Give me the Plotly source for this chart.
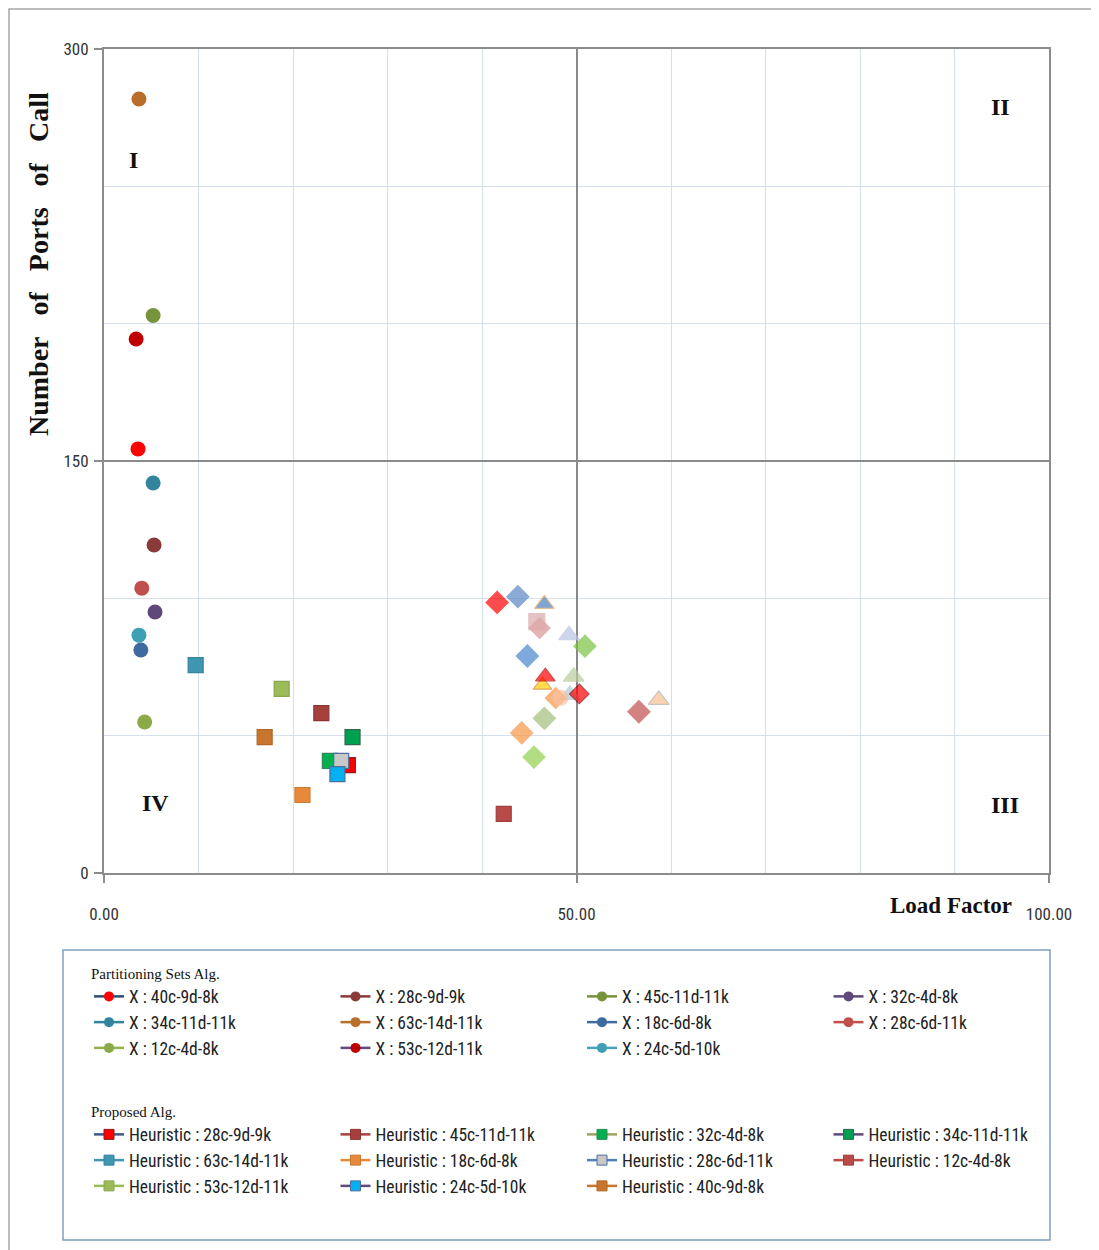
import plotly.graph_objects as go

# page body adds an 8px margin; work in reference pixel coordinates and shift
OFF = 8
W, H = 1099 - OFF, 1250 - OFF
PL, PR, PT, PB = 104, 1049, 49, 873          # plot area in reference pixels
L, T = PL - OFF, PT - OFF
R, B = W - (PR - OFF), H - (PB - OFF)
PW, PH = PR - PL, PB - PT

def px(xp):
    return (xp - PL) / PW

def py(yp):
    return (PB - yp) / PH

# ---------------- data ----------------
x_names = ["40c-9d-8k", "28c-9d-9k", "45c-11d-11k", "32c-4d-8k", "34c-11d-11k",
           "63c-14d-11k", "18c-6d-8k", "28c-6d-11k", "12c-4d-8k", "53c-12d-11k", "24c-5d-10k"]
x_load = [3.6, 5.3, 5.2, 5.4, 5.2, 3.7, 3.9, 4.0, 4.3, 3.4, 3.7]
x_ports = [154.4, 119.4, 203.0, 95.0, 142.0, 281.8, 81.2, 103.7, 55.0, 194.4, 86.6]
x_line_colors = ["#2c4d75", "#8b3a3a", "#77933c", "#5f497a", "#31849b", "#b86f2a",
                 "#3f6aa0", "#c0504d", "#93b150", "#604a7b", "#4aa3b8"]
x_marker_colors = ["#ff0000", "#8b3a3a", "#77933c", "#5f497a", "#31849b", "#b86f2a",
                   "#3f6aa0", "#c0504d", "#8aaa4a", "#c00000", "#3fa0b5"]

h_names = ["28c-9d-9k", "45c-11d-11k", "32c-4d-8k", "34c-11d-11k", "63c-14d-11k",
           "18c-6d-8k", "28c-6d-11k", "12c-4d-8k", "53c-12d-11k", "24c-5d-10k", "40c-9d-8k"]
h_load = [25.8, 23.0, 23.9, 26.3, 9.7, 21.0, 25.1, 42.3, 18.8, 24.7, 17.0]
h_ports = [39.3, 58.2, 40.8, 49.5, 75.7, 28.4, 40.8, 21.5, 67.0, 36.0, 49.5]
h_line_colors = ["#3d5a8a", "#a5403d", "#a0a060", "#604a7b", "#3e96b0", "#e6893a",
                 "#4f81bd", "#b84a47", "#9bbb59", "#604a7b", "#c87530"]
h_marker_colors = ["#ff0000", "#a5403d", "#00b050", "#00a050", "#3e96b0", "#e6893a",
                   "#c8c8c8", "#b84a47", "#9bbb59", "#00b0f0", "#c87530"]
h_marker_edges = ["#8b1a1a", "#8a3532", "#2e8b57", "#2e6b4a", "#3584a0", "#d07a30",
                  "#4f6fa0", "#a04040", "#88a850", "#4f6fa0", "#b06828"]

# other (unlabelled) points in the middle cluster
m_load = [41.6, 43.8, 46.6, 46.1, 45.8, 49.2, 50.9, 44.8, 46.4, 46.7, 49.7,
          49.3, 47.8, 48.3, 50.3, 46.6, 44.2, 56.6, 58.7, 45.5]
m_ports = [98.5, 100.6, 97.9, 89.2, 91.5, 86.6, 82.6, 79.0, 68.4, 71.5, 71.5,
           64.8, 63.7, 63.8, 65.2, 56.3, 51.0, 58.7, 63.0, 42.2]
m_symbols = ["diamond", "diamond", "triangle-up", "diamond", "square", "triangle-up",
             "diamond", "diamond", "triangle-up", "triangle-up", "triangle-up",
             "triangle-up", "diamond", "circle", "diamond", "diamond", "diamond",
             "diamond", "triangle-up", "diamond"]
m_colors = ["#ff0000", "#5b87c5", "#4a7ebb", "#d99694", "#dcaaaa", "#b9c4e2",
            "#7cc242", "#4a86d0", "#ffd000", "#ff0000", "#b8cc9c",
            "#a9cdd8", "#f79646", "#f9c2a4", "#ff0000", "#a3c07a", "#f79646",
            "#c0504d", "#fac090", "#92d050"]
m_edges = ["#ff0000", "#5b87c5", "#e0a060", "#d99694", "#dcaaaa", "#b9c4e2",
           "#7cc242", "#4a86d0", "#e08020", "#c00000", "#b8cc9c",
           "#a9cdd8", "#f79646", "#f9c2a4", "#8b0000", "#a3c07a", "#f79646",
           "#c0504d", "#b0a8a0", "#92d050"]
m_sizes = [17, 17, 17, 16, 16, 18, 17, 17, 16, 17, 18, 18, 16, 15, 15, 17, 17, 17, 18, 17]

x_ticks = [0, 50, 100]
y_ticks = [0, 150, 300]

quad_labels = ["I", "II", "III", "IV"]
quad_x = [3.1, 94.9, 95.3, 5.4]
quad_y = [259.6, 278.9, 24.8, 25.5]

# ---------------- figure ----------------
fig = go.Figure()

for i, n in enumerate(x_names):
    fig.add_trace(go.Scatter(
        x=[x_load[i]], y=[x_ports[i]], mode="markers", showlegend=False,
        marker=dict(symbol="circle", size=15, color=x_marker_colors[i],
                    line=dict(width=0)),
        hovertemplate="X : " + n + "<extra></extra>"))

for i, n in enumerate(h_names):
    fig.add_trace(go.Scatter(
        x=[h_load[i]], y=[h_ports[i]], mode="markers", showlegend=False,
        marker=dict(symbol="square", size=15, color=h_marker_colors[i],
                    line=dict(width=1.2, color=h_marker_edges[i])),
        hovertemplate="Heuristic : " + n + "<extra></extra>"))

fig.add_trace(go.Scatter(
    x=m_load, y=m_ports, mode="markers", showlegend=False,
    marker=dict(symbol=m_symbols, size=m_sizes, color=m_colors,
                line=dict(width=1.2, color=m_edges))))

# legend entries
for i, n in enumerate(x_names):
    fig.add_trace(go.Scatter(
        x=[None], y=[None], mode="lines+markers", name="X : " + n, legend="legend",
        line=dict(color=x_line_colors[i], width=2.5),
        marker=dict(symbol="circle", size=10, color=x_marker_colors[i])))

for i, n in enumerate(h_names):
    fig.add_trace(go.Scatter(
        x=[None], y=[None], mode="lines+markers", name="Heuristic : " + n, legend="legend2",
        line=dict(color=h_line_colors[i], width=2.5),
        marker=dict(symbol="square", size=10, color=h_marker_colors[i],
                    line=dict(width=1, color=h_marker_edges[i]))))

sans = "Liberation Sans Narrow, Roboto Condensed, Arial Narrow, Roboto, sans-serif"
serif = "Liberation Serif, Times New Roman, serif"
tick_font = dict(family=sans, size=17, color="#333333")
leg_font = dict(family=sans, size=17.5, color="#222222")
title_font = dict(family=serif, size=15, color="#111111")

fig.update_layout(
    width=W, height=H,
    margin=dict(l=L, r=R, t=T, b=B, autoexpand=False),
    paper_bgcolor="white", plot_bgcolor="white",
    xaxis=dict(range=[0, 100], tickvals=x_ticks, tickformat=".2f",
               showgrid=True, gridcolor="#8a8a8a", gridwidth=1.5,
               minor=dict(dtick=10, showgrid=True, gridcolor="#d5dfee", gridwidth=1),
               showline=True, linecolor="#8c8c8c", linewidth=2, mirror=True,
               ticks="outside", ticklen=8, tickcolor="#8c8c8c", tickwidth=1.5,
               ticklabelstandoff=17, zeroline=False, tickfont=tick_font, fixedrange=True),
    yaxis=dict(range=[0, 300], tickvals=y_ticks,
               showgrid=True, gridcolor="#8a8a8a", gridwidth=1.5,
               minor=dict(dtick=50, showgrid=True, gridcolor="#d5dfee", gridwidth=1),
               showline=True, linecolor="#8c8c8c", linewidth=2, mirror=True,
               ticks="outside", ticklen=8, tickcolor="#8c8c8c", tickwidth=1.5,
               ticklabelstandoff=2, zeroline=False, tickfont=tick_font, fixedrange=True),
    legend=dict(orientation="h", x=px(89), y=py(959), xanchor="left", yanchor="top",
                entrywidth=201.5, entrywidthmode="pixels", bgcolor="rgba(0,0,0,0)",
                font=leg_font, itemsizing="trace", traceorder="normal",
                title=dict(text="Partitioning Sets Alg.", font=title_font, side="top")),
    legend2=dict(orientation="h", x=px(89), y=py(1097), xanchor="left", yanchor="top",
                 entrywidth=201.5, entrywidthmode="pixels", bgcolor="rgba(0,0,0,0)",
                 font=leg_font, itemsizing="trace", traceorder="normal",
                 title=dict(text="Proposed Alg.", font=title_font, side="top")),
    shapes=[
        dict(type="rect", xref="paper", yref="paper", x0=px(9), x1=px(1110),
             y0=py(9), y1=py(1262), line=dict(color="#a6a6a6", width=1.5), layer="below"),
        dict(type="rect", xref="paper", yref="paper", x0=px(63), x1=px(1050),
             y0=py(950), y1=py(1240), line=dict(color="#7f9fc0", width=1.5), layer="below"),
    ],
)

ann = []
ann.append(dict(text="Number\u00a0\u00a0\u00a0of\u00a0\u00a0\u00a0Ports\u00a0\u00a0\u00a0of\u00a0\u00a0\u00a0Call",
                xref="paper", yref="paper", x=px(38), y=py(264), textangle=-90,
                showarrow=False, xanchor="center", yanchor="middle",
                font=dict(family=serif, size=28, color="#111111", weight="bold")))
ann.append(dict(text="Load Factor", xref="paper", yref="paper", x=px(951), y=py(905),
                showarrow=False, xanchor="center", yanchor="middle",
                font=dict(family=serif, size=23, color="#111111", weight="bold")))
for t, qx, qy in zip(quad_labels, quad_x, quad_y):
    ann.append(dict(text=t, x=qx, y=qy, xref="x", yref="y", showarrow=False,
                    font=dict(family=serif, size=24, color="#111111", weight="bold")))
fig.update_layout(annotations=ann)

fig.write_html("out.html")
